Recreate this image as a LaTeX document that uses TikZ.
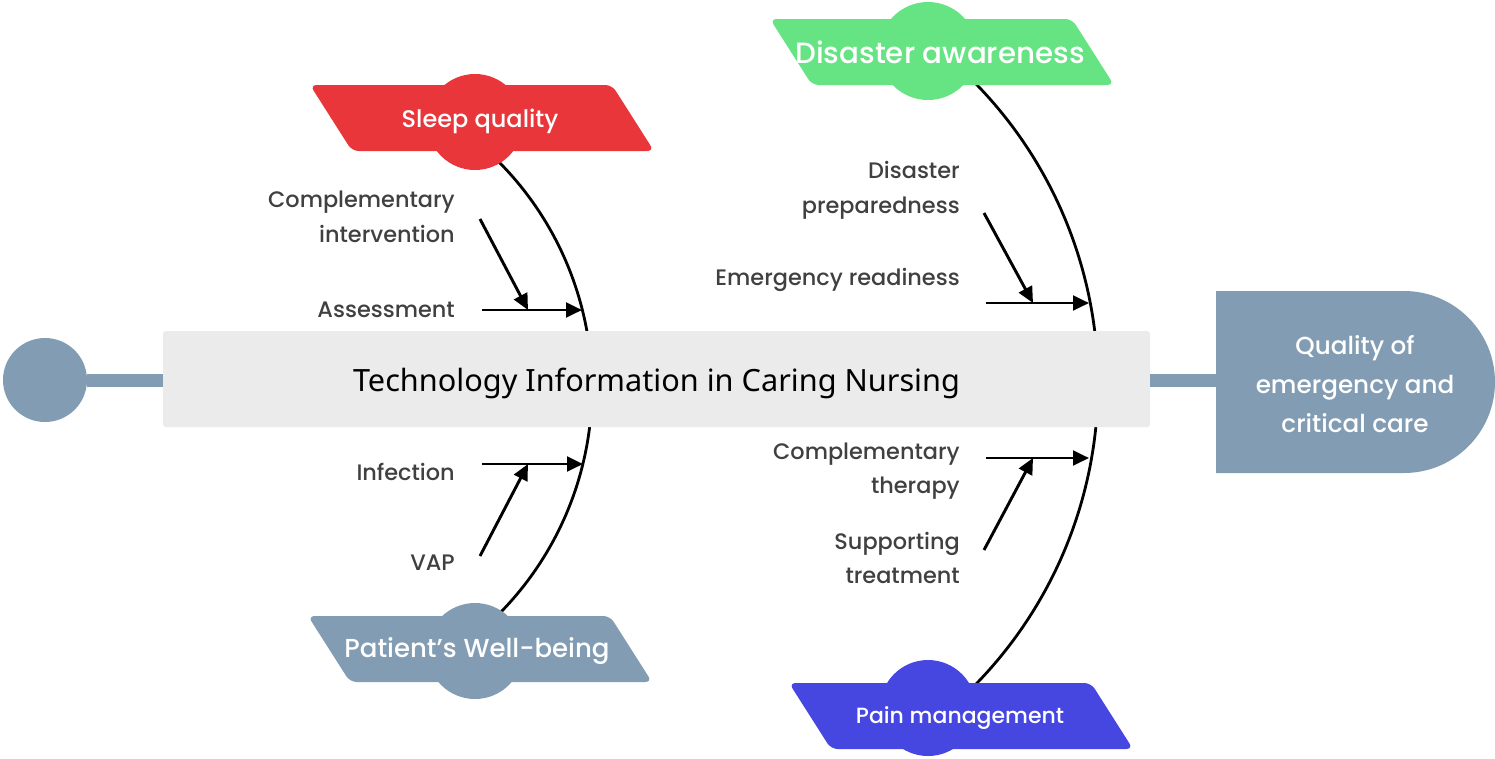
\documentclass[tikz,border=0pt]{standalone}
\usepackage{fontspec}
\setmainfont{Poppins}[UprightFont={* Medium}]
\newfontfamily\titlefont{Noto Sans}
\usetikzlibrary{arrows.meta,positioning}

\definecolor{bonegray}{HTML}{829DB3}
\definecolor{sleepred}{HTML}{E8363B}
\definecolor{disgreen}{HTML}{66E383}
\definecolor{painblue}{HTML}{4646E0}
\definecolor{spinegray}{HTML}{EBEBEB}
\definecolor{labelgray}{HTML}{404040}

\tikzset{
    cause/.style={text=labelgray, align=right, anchor=east, inner sep=0pt,
        font=\fontsize{16.8}{26}\selectfont},
    headtext/.style={text=white, inner sep=0pt},
    feed/.style={line width=2.2pt, -{Triangle[length=12pt,width=11pt]}},
    rib/.style={line width=2.1pt},
    bar/.style={bonegray, line width=9.75pt},
}

\begin{document}
\begin{tikzpicture}[x=0.75pt, y=0.75pt]
    \useasboundingbox (0,0) rectangle (1495,-758);

    % ribs
    \draw[rib] (271,-388) ++(46:321) arc[start angle=46, end angle=-46, radius=321];
    \draw[rib] (668,-384) ++(46:430) arc[start angle=46, end angle=-46, radius=430];

    % spine
    \node[circle, fill=bonegray, minimum size=63pt, inner sep=0pt] (dot) at (45,-380) {};
    \node[fill=spinegray, rounded corners=2pt, minimum width=740.25pt, minimum height=72pt] (spine) at (656.5,-379) {};
    \node[font=\titlefont\fontsize{23}{27}\selectfont] (title) at ([yshift=-3pt]spine.center) {Technology Information in Caring Nursing};
    \fill[bonegray] (1216,-291) -- (1404,-291) arc[start angle=90, end angle=-90, radius=91] -- (1216,-473) -- cycle;
    \coordinate (effect-in) at (1216,-380);
    \node[text=white, align=center, font=\fontsize{18.5}{29}\selectfont] (effect) at (1355,-384) {Quality of\\emergency and\\critical care};
    \draw[bar] (dot.east) -- (dot.east -| spine.west);
    \draw[bar] (spine.east |- effect-in) -- (effect-in);

    % heads
    \begin{scope}[shift={(482,-118)}]
        \fill[sleepred, rounded corners=5pt] (-172,33) -- (130,33) -- (172,-33) -- (-130,-33) -- cycle;
        \fill[sleepred] (-7,-4) circle (48);
        \node[headtext, font=\fontsize{18}{20}\selectfont] (sleep) at (-2,-3) {Sleep quality};
    \end{scope}
    \begin{scope}[shift={(942,-52)}]
        \fill[disgreen, rounded corners=5pt] (-172,33) -- (130,33) -- (172,-33) -- (-130,-33) -- cycle;
        \fill[disgreen] (-14,1) circle (49);
        \node[headtext, font=\fontsize{22}{24}\selectfont] (disaster) at (-2,0) {Disaster awareness};
    \end{scope}
    \begin{scope}[shift={(480,-649)}]
        \fill[bonegray, rounded corners=5pt] (-172,33) -- (130,33) -- (172,-33) -- (-130,-33) -- cycle;
        \fill[bonegray] (-5,-2) circle (48);
        \node[headtext, font=\fontsize{19.5}{22}\selectfont] (patient) at (-3,-2) {Patient’s Well-being};
    \end{scope}
    \begin{scope}[shift={(961,-716)}]
        \fill[painblue, rounded corners=5pt] (-172,33) -- (130,33) -- (172,-33) -- (-130,-33) -- cycle;
        \fill[painblue] (-33,8) circle (48);
        \node[headtext, font=\fontsize{16.5}{20}\selectfont] (pain) at (-1,-2) {Pain management};
    \end{scope}

    % causes
    \node[cause] (compint) at (455,-217) {Complementary\\intervention};
    \node[cause] (assess) at (455,-310) {Assessment};
    \node[cause] (infect) at (455,-472) {Infection};
    \node[cause] (vap) at (455,-563) {VAP};
    \node[cause] (prepared) at (960,-190) {Disaster\\preparedness};
    \node[cause] (ready) at (960,-280) {Emergency readiness};
    \node[cause] (comptherapy) at (960,-471) {Complementary\\therapy};
    \node[cause] (support) at (960,-558) {Supporting\\treatment};

    % arrow ends
    \coordinate (assess-in) at (482,-310);
    \coordinate (assess-rib) at (582,-310);
    \coordinate (assess-mid) at (528,-310);
    \coordinate (compint-in) at (480,-219);
    \coordinate (infect-in) at (482,-464);
    \coordinate (infect-rib) at (583,-464);
    \coordinate (infect-mid) at (528,-464);
    \coordinate (vap-in) at (480,-556);
    \coordinate (ready-in) at (986,-303);
    \coordinate (ready-rib) at (1089,-303);
    \coordinate (ready-mid) at (1033,-303);
    \coordinate (prepared-in) at (984,-213);
    \coordinate (ct-in) at (986,-458);
    \coordinate (ct-rib) at (1089,-458);
    \coordinate (ct-mid) at (1033,-458);
    \coordinate (support-in) at (984,-550);

    \draw[feed] (assess-in) -- (assess-rib);
    \draw[feed] (compint-in) -- (assess-mid);
    \draw[feed] (infect-in) -- (infect-rib);
    \draw[feed] (vap-in) -- (infect-mid);
    \draw[feed] (ready-in) -- (ready-rib);
    \draw[feed] (prepared-in) -- (ready-mid);
    \draw[feed] (ct-in) -- (ct-rib);
    \draw[feed] (support-in) -- (ct-mid);
\end{tikzpicture}
\end{document}
